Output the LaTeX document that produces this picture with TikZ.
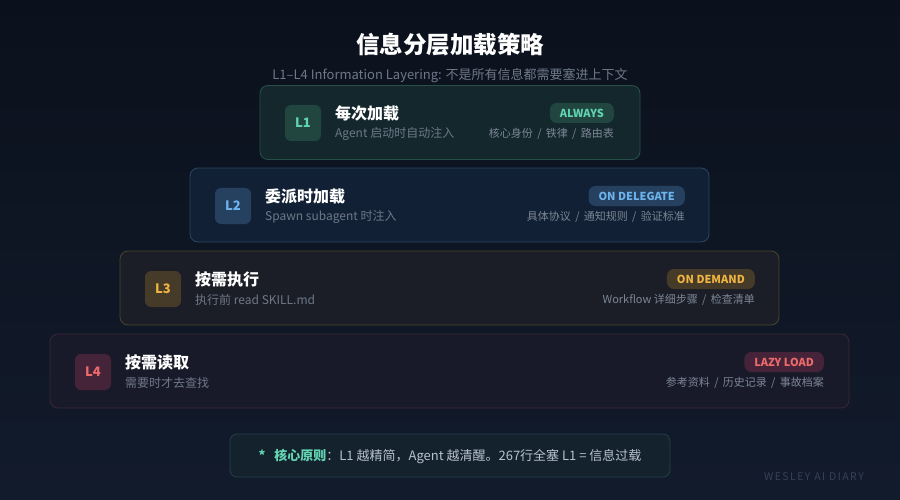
\documentclass[tikz,border=0pt]{standalone}
\usepackage{fontspec}
\setmainfont{Noto Sans CJK SC}
\usetikzlibrary{positioning}

\definecolor{bgtop}{HTML}{0B111C}
\definecolor{bgbot}{HTML}{121B2C}
\definecolor{subgray}{HTML}{6E7888}
\definecolor{taggray}{HTML}{7C8696}
\definecolor{markgray}{HTML}{364255}
% layer colours
\definecolor{oneFill}{HTML}{14272D}
\definecolor{oneLine}{HTML}{285049}
\definecolor{oneBadge}{HTML}{21463F}
\definecolor{oneText}{HTML}{62D4B2}
\definecolor{twoFill}{HTML}{122035}
\definecolor{twoLine}{HTML}{2A4563}
\definecolor{twoBadge}{HTML}{26405F}
\definecolor{twoText}{HTML}{6DB4EE}
\definecolor{threeFill}{HTML}{1B1E27}
\definecolor{threeLine}{HTML}{4B4330}
\definecolor{threeBadge}{HTML}{463B29}
\definecolor{threeText}{HTML}{F0B443}
\definecolor{fourFill}{HTML}{191A29}
\definecolor{fourLine}{HTML}{3B2635}
\definecolor{fourBadge}{HTML}{45243A}
\definecolor{fourText}{HTML}{EF6B6B}
\definecolor{noteFill}{HTML}{13222D}
\definecolor{noteLine}{HTML}{26404A}
\definecolor{noteText}{HTML}{B9C1CC}

\tikzset{
  layer/.style={rounded corners=8pt, line width=0.8pt, minimum height=74pt},
  badge/.style={rounded corners=6pt, minimum width=36pt, minimum height=36pt,
    inner sep=0pt, font=\fontsize{13}{13}\selectfont\bfseries},
  ltitle/.style={anchor=west, inner sep=0pt, text=white,
    font=\fontsize{16}{16}\selectfont\bfseries},
  lsub/.style={anchor=west, inner sep=0pt, text=subgray,
    font=\fontsize{12}{12}\selectfont},
  pill/.style={anchor=east, rounded corners=7pt, minimum height=20pt,
    inner xsep=10pt, inner ysep=0pt, font=\fontsize{11}{11}\selectfont\bfseries},
  tags/.style={anchor=east, inner sep=0pt, text=taggray,
    font=\fontsize{11}{11}\selectfont}
}

\begin{document}
\begin{tikzpicture}[x=1pt, y=-1pt]
    % Background
    \shade[top color=bgtop, bottom color=bgbot] (0,0) rectangle (900,500);
    \useasboundingbox (0,0) rectangle (900,500);

    % Heading
    \node[text=white, font=\fontsize{23.5}{24}\selectfont\bfseries] (title) at (450,45) {信息分层加载策略};
    \node[text=subgray, font=\fontsize{13}{13}\selectfont] (subtitle) at (450,76)
        {L1–L4 Information Layering: 不是所有信息都需要塞进上下文};

    % L1
    \node[layer, draw=oneLine, fill=oneFill, minimum width=380pt] (box1) at (450,122.5) {};
    \node[badge, fill=oneBadge, text=oneText] (badge1) at (303,123) {L1};
    \node[ltitle] (title1) at (335,113) {每次加载};
    \node[lsub] (sub1) at (335,134) {Agent 启动时自动注入};
    \node[pill, fill=oneBadge, text=oneText] (pill1) at (614,113) {ALWAYS};
    \node[tags] (tags1) at (614,134) {核心身份 \,/\, 铁律 \,/\, 路由表};

    % L2
    \node[layer, draw=twoLine, fill=twoFill, minimum width=519pt] (box2) at (449.5,205) {};
    \node[badge, fill=twoBadge, text=twoText] (badge2) at (233,206) {L2};
    \node[ltitle] (title2) at (265,196) {委派时加载};
    \node[lsub] (sub2) at (265,217) {Spawn subagent 时注入};
    \node[pill, fill=twoBadge, text=twoText] (pill2) at (685,196) {ON DELEGATE};
    \node[tags] (tags2) at (685,217) {具体协议 \,/\, 通知规则 \,/\, 验证标准};

    % L3
    \node[layer, draw=threeLine, fill=threeFill, minimum width=659pt] (box3) at (449.5,288) {};
    \node[badge, fill=threeBadge, text=threeText] (badge3) at (163,289) {L3};
    \node[ltitle] (title3) at (195,279) {按需执行};
    \node[lsub] (sub3) at (195,300) {执行前 read SKILL.md};
    \node[pill, fill=threeBadge, text=threeText] (pill3) at (755,279) {ON DEMAND};
    \node[tags] (tags3) at (755,300) {Workflow 详细步骤 \,/\, 检查清单};

    % L4
    \node[layer, draw=fourLine, fill=fourFill, minimum width=799pt] (box4) at (449.5,371) {};
    \node[badge, fill=fourBadge, text=fourText] (badge4) at (93,372) {L4};
    \node[ltitle] (title4) at (125,362) {按需读取};
    \node[lsub] (sub4) at (125,383) {需要时才去查找};
    \node[pill, fill=fourBadge, text=fourText] (pill4) at (824,362) {LAZY LOAD};
    \node[tags] (tags4) at (824,383) {参考资料 \,/\, 历史记录 \,/\, 事故档案};

    % Core principle
    \node[rounded corners=7pt, draw=noteLine, fill=noteFill, line width=0.8pt,
          minimum width=440pt, minimum height=43pt] (note) at (450,455.5) {};
    \node[font=\fontsize{13}{13}\selectfont, text=noteText] (notetext) at (450,456)
        {\textcolor{oneText}{\textbf{*}\hspace{9pt}\textbf{核心原则}}：L1 越精简，Agent 越清醒。267行全塞 L1 = 信息过载};

    % Watermark
    \node[text=markgray, font=\fontsize{10.5}{11}\selectfont\addfontfeature{LetterSpace=14}] (mark) at (814,477) {WESLEY AI DIARY};
\end{tikzpicture}
\end{document}
